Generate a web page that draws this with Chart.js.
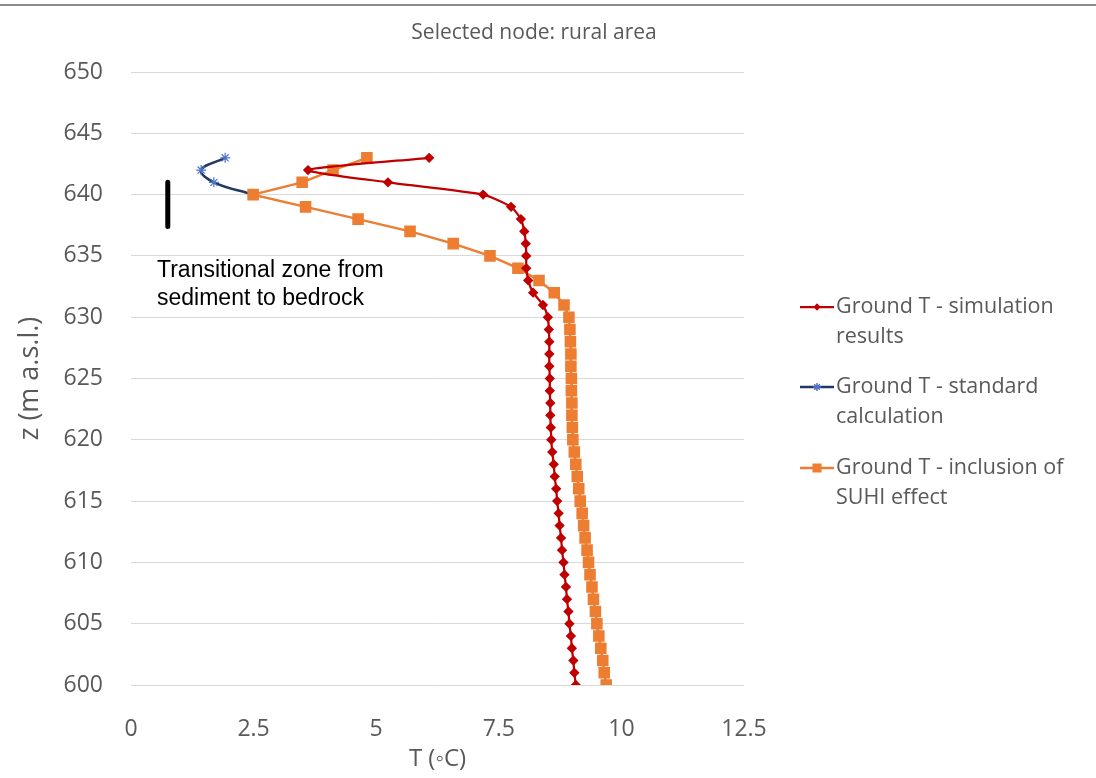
<!DOCTYPE html>
<html>
<head>
<meta charset="utf-8">
<script src="https://cdn.jsdelivr.net/npm/chart.js@4.4.1/dist/chart.umd.min.js"></script>
<style>
  html, body { margin: 0; padding: 0; background: #fff; }
  #wrap { position: relative; width: 1096px; height: 778px; }
  #topline { position: absolute; left: 0; top: 4px; width: 1096px; height: 2px; background: #8c8c8c; }
</style>
</head>
<body>
<div id="wrap">
  <div id="topline"></div>
  <canvas id="chart" width="1096" height="778"></canvas>
</div>
<script>
// depth levels (m a.s.l.), one per simulated node
const depths = [643, 642, 641, 640, 639, 638, 637, 636, 635, 634, 633, 632, 631, 630,
  629, 628, 627, 626, 625, 624, 623, 622, 621, 620, 619, 618, 617, 616, 615, 614,
  613, 612, 611, 610, 609, 608, 607, 606, 605, 604, 603, 602, 601, 600];

// Ground T - simulation results
const simT = [6.08, 3.61, 5.24, 7.18, 7.75, 7.95, 8.02, 8.05, 8.06, 8.06, 8.1, 8.2, 8.4, 8.5,
  8.52, 8.53, 8.53, 8.53, 8.54, 8.54, 8.55, 8.55, 8.56, 8.57, 8.59, 8.62, 8.64, 8.67, 8.69, 8.72,
  8.74, 8.77, 8.79, 8.82, 8.84, 8.87, 8.89, 8.92, 8.94, 8.97, 8.99, 9.02, 9.04, 9.07];

// Ground T - inclusion of SUHI effect
const suhiT = [4.81, 4.12, 3.49, 2.49, 3.56, 4.63, 5.69, 6.57, 7.32, 7.89, 8.32, 8.63, 8.83, 8.93,
  8.95, 8.96, 8.97, 8.97, 8.98, 8.98, 8.99, 8.99, 9.0, 9.01, 9.04, 9.07, 9.1, 9.13, 9.16, 9.2,
  9.23, 9.26, 9.3, 9.33, 9.36, 9.4, 9.43, 9.47, 9.5, 9.54, 9.58, 9.62, 9.65, 9.69];

// Ground T - standard calculation (top nodes only)
const stdDepths = [643, 642, 641, 640];
const stdT = [1.92, 1.43, 1.69, 2.49];

// marker for the transitional zone
const zoneT = [0.75, 0.75];
const zoneZ = [641, 637.4];

const legendLabels = [
  ['Ground T - simulation', 'results'],
  ['Ground T - standard', 'calculation'],
  ['Ground T - inclusion of', 'SUHI effect']
];

const pairs = (xs, ys) => xs.map((x, i) => ({ x: x, y: ys[i] }));
const grey = '#595959';

const extras = {
  id: 'extras',
  afterDraw(chart) {
    const ctx = chart.ctx;
    const xs = chart.scales.x, ys = chart.scales.y;
    ctx.save();
    // title
    ctx.fillStyle = grey;
    ctx.font = '21px "Open Sans"';
    ctx.textAlign = 'center';
    ctx.textBaseline = 'middle';
    ctx.fillText('Selected node: rural area', 534, 33);

    // annotation text
    ctx.fillStyle = '#000';
    ctx.font = '23px "Liberation Sans"';
    ctx.textAlign = 'left';
    const ax = xs.getPixelForValue(0.53);
    ctx.fillText('Transitional zone from', ax, ys.getPixelForValue(633.8));
    ctx.fillText('sediment to bedrock', ax, ys.getPixelForValue(631.5));

    // legend
    const ds = chart.data.datasets;
    const tops = [307, 387, 468];
    ctx.font = '21.5px "Open Sans"';
    [0, 1, 2].forEach(i => {
      const d = ds[i];
      const y = tops[i];
      ctx.strokeStyle = d.borderColor;
      ctx.lineWidth = d.borderWidth;
      ctx.beginPath();
      ctx.moveTo(800, y);
      ctx.lineTo(834, y);
      ctx.stroke();
      ctx.lineWidth = 1.5;
      ctx.fillStyle = d.pointBackgroundColor;
      ctx.strokeStyle = d.pointBorderColor;
      Chart.helpers.drawPoint(ctx, {
        pointStyle: d.pointStyle, radius: d.pointRadius - 1, rotation: 0, borderWidth: 1.5
      }, 817, y);
      ctx.fillStyle = grey;
      ctx.fillText(legendLabels[i][0], 836, y);
      ctx.fillText(legendLabels[i][1], 836, y + 30);
    });
    ctx.restore();
  }
};

new Chart(document.getElementById('chart'), {
  type: 'scatter',
  data: {
    datasets: [
      {
        label: 'Ground T - simulation results',
        data: pairs(simT, depths),
        showLine: true,
        borderColor: '#C00000',
        borderWidth: 2.25,
        tension: 0.2,
        pointStyle: 'rectRot',
        pointRadius: 3.6,
        pointBackgroundColor: '#C00000',
        pointBorderColor: '#C00000',
        order: 0
      },
      {
        label: 'Ground T - standard calculation',
        data: pairs(stdT, stdDepths),
        showLine: true,
        borderColor: '#1F3864',
        borderWidth: 2.5,
        tension: 0.4,
        pointStyle: 'star',
        pointRadius: 5,
        pointBackgroundColor: '#4F74C4',
        pointBorderColor: '#4F74C4',
        pointBorderWidth: 1.2,
        order: 2
      },
      {
        label: 'Ground T - inclusion of SUHI effect',
        data: pairs(suhiT, depths),
        showLine: true,
        borderColor: '#ED7D31',
        borderWidth: 2.5,
        tension: 0,
        pointStyle: 'rect',
        pointRadius: 6.4,
        pointBackgroundColor: '#ED7D31',
        pointBorderColor: '#ED7D31',
        order: 1
      },
      {
        label: 'zone',
        data: pairs(zoneT, zoneZ),
        showLine: true,
        borderColor: '#000',
        borderWidth: 5,
        borderCapStyle: 'round',
        pointRadius: 0,
        order: 3
      }
    ]
  },
  options: {
    responsive: false,
    animation: false,
    layout: { padding: { left: 0, right: 352, top: 72, bottom: 0 } },
    plugins: {
      legend: { display: false },
      tooltip: { enabled: false },
      title: { display: false }
    },
    elements: { point: { hoverRadius: 0 } },
    scales: {
      x: {
        type: 'linear',
        min: 0,
        max: 12.5,
        afterFit(s) { s.height = 93; },
        grid: { display: false },
        border: { display: false },
        ticks: {
          stepSize: 2.5,
          padding: 23,
          color: grey,
          font: { family: '"Open Sans"', size: 23 },
          callback: v => String(v)
        },
        title: {
          display: true,
          text: 'T (\u25E6C)',
          color: grey,
          font: { family: '"Open Sans"', size: 24 },
          padding: { top: 0, bottom: 4 }
        }
      },
      y: {
        type: 'linear',
        min: 600,
        max: 650,
        afterFit(s) { s.width = 131; },
        grid: { color: '#D9D9D9', lineWidth: 1, drawTicks: false },
        border: { display: false },
        ticks: {
          stepSize: 5,
          padding: 28,
          color: grey,
          font: { family: '"Open Sans"', size: 23 }
        },
        title: {
          display: true,
          text: 'z (m a.s.l.)',
          color: grey,
          font: { family: '"Open Sans"', size: 27 },
          padding: { top: 14, bottom: 0 }
        }
      }
    }
  },
  plugins: [extras]
});
</script>
</body>
</html>
